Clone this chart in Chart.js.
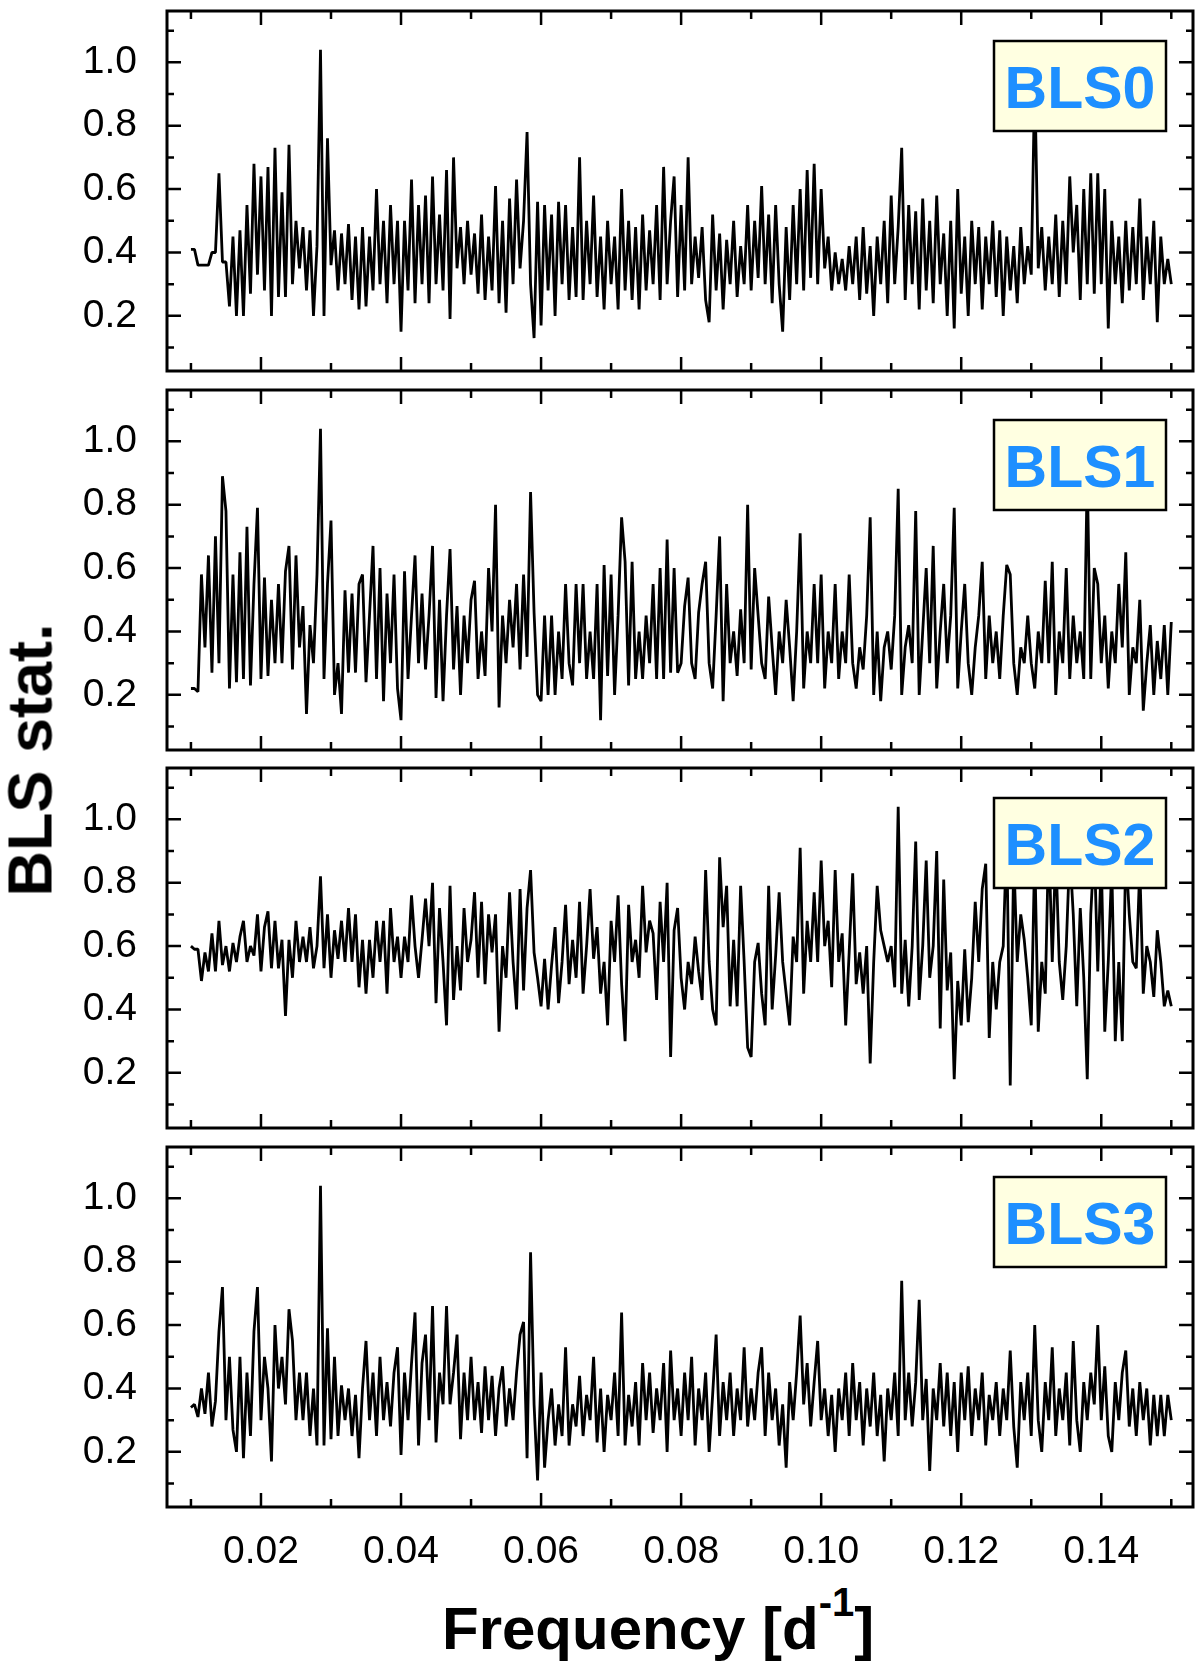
<!DOCTYPE html>
<html>
<head>
<meta charset="utf-8">
<script src="https://cdn.jsdelivr.net/npm/chart.js@4.4.0/dist/chart.umd.min.js"></script>
<style>
html,body{margin:0;padding:0;background:#fff;}
#wrap{position:relative;width:1200px;height:1672px;overflow:hidden;background:#fff;}
canvas{position:absolute;left:0;}
.t{position:absolute;font-family:"Liberation Sans",Arial,Helvetica,sans-serif;font-weight:bold;color:#000;white-space:nowrap;line-height:1;}
</style>
</head>
<body>
<div id="wrap">
  <canvas id="c0" width="1200" height="380" style="top:1px"></canvas>
  <canvas id="c1" width="1200" height="380" style="top:380px"></canvas>
  <canvas id="c2" width="1200" height="380" style="top:758px"></canvas>
  <canvas id="c3" width="1200" height="430" style="top:1137px"></canvas>
  <div class="t" style="left:30px;top:760px;font-size:63px;transform:translate(-50%,-50%) rotate(-90deg);">BLS stat.</div>
  <div class="t" style="left:442px;top:1599px;font-size:60px;">Frequency [d<span style="font-size:40px;position:relative;top:-33px;">-1</span>]</div>
</div>
<script>
// ---------------- data ----------------
const panelLabels = ['BLS0','BLS1','BLS2','BLS3'];

const freq = [
0.0100,0.0105,0.0110,0.0115,0.0120,0.0125,0.0130,0.0135,0.0140,0.0145,
0.0150,0.0155,0.0160,0.0165,0.0170,0.0175,0.0180,0.0185,0.0190,0.0195,
0.0200,0.0205,0.0210,0.0215,0.0220,0.0225,0.0230,0.0235,0.0240,0.0245,
0.0250,0.0255,0.0260,0.0265,0.0270,0.0275,0.0280,0.0285,0.0290,0.0295,
0.0300,0.0305,0.0310,0.0315,0.0320,0.0325,0.0330,0.0335,0.0340,0.0345,
0.0350,0.0355,0.0360,0.0365,0.0370,0.0375,0.0380,0.0385,0.0390,0.0395,
0.0400,0.0405,0.0410,0.0415,0.0420,0.0425,0.0430,0.0435,0.0440,0.0445,
0.0450,0.0455,0.0460,0.0465,0.0470,0.0475,0.0480,0.0485,0.0490,0.0495,
0.0500,0.0505,0.0510,0.0515,0.0520,0.0525,0.0530,0.0535,0.0540,0.0545,
0.0550,0.0555,0.0560,0.0565,0.0570,0.0575,0.0580,0.0585,0.0590,0.0595,
0.0600,0.0605,0.0610,0.0615,0.0620,0.0625,0.0630,0.0635,0.0640,0.0645,
0.0650,0.0655,0.0660,0.0665,0.0670,0.0675,0.0680,0.0685,0.0690,0.0695,
0.0700,0.0705,0.0710,0.0715,0.0720,0.0725,0.0730,0.0735,0.0740,0.0745,
0.0750,0.0755,0.0760,0.0765,0.0770,0.0775,0.0780,0.0785,0.0790,0.0795,
0.0800,0.0805,0.0810,0.0815,0.0820,0.0825,0.0830,0.0835,0.0840,0.0845,
0.0850,0.0855,0.0860,0.0865,0.0870,0.0875,0.0880,0.0885,0.0890,0.0895,
0.0900,0.0905,0.0910,0.0915,0.0920,0.0925,0.0930,0.0935,0.0940,0.0945,
0.0950,0.0955,0.0960,0.0965,0.0970,0.0975,0.0980,0.0985,0.0990,0.0995,
0.1000,0.1005,0.1010,0.1015,0.1020,0.1025,0.1030,0.1035,0.1040,0.1045,
0.1050,0.1055,0.1060,0.1065,0.1070,0.1075,0.1080,0.1085,0.1090,0.1095,
0.1100,0.1105,0.1110,0.1115,0.1120,0.1125,0.1130,0.1135,0.1140,0.1145,
0.1150,0.1155,0.1160,0.1165,0.1170,0.1175,0.1180,0.1185,0.1190,0.1195,
0.1200,0.1205,0.1210,0.1215,0.1220,0.1225,0.1230,0.1235,0.1240,0.1245,
0.1250,0.1255,0.1260,0.1265,0.1270,0.1275,0.1280,0.1285,0.1290,0.1295,
0.1300,0.1305,0.1310,0.1315,0.1320,0.1325,0.1330,0.1335,0.1340,0.1345,
0.1350,0.1355,0.1360,0.1365,0.1370,0.1375,0.1380,0.1385,0.1390,0.1395,
0.1400,0.1405,0.1410,0.1415,0.1420,0.1425,0.1430,0.1435,0.1440,0.1445,
0.1450,0.1455,0.1460,0.1465,0.1470,0.1475,0.1480,0.1485,0.1490,0.1495,
0.1500];

const bls0 = [
0.41,0.41,0.36,0.36,0.36,0.36,0.40,0.40,0.65,0.37,
0.37,0.23,0.45,0.20,0.47,0.20,0.55,0.27,0.68,0.33,
0.64,0.28,0.67,0.20,0.73,0.26,0.59,0.26,0.74,0.30,
0.50,0.35,0.48,0.28,0.47,0.20,0.42,1.04,0.20,0.76,
0.36,0.47,0.28,0.46,0.30,0.49,0.25,0.45,0.22,0.48,
0.23,0.45,0.28,0.60,0.30,0.50,0.24,0.55,0.30,0.50,
0.15,0.50,0.28,0.63,0.24,0.55,0.30,0.58,0.24,0.64,
0.30,0.52,0.28,0.66,0.19,0.70,0.35,0.48,0.30,0.50,
0.33,0.46,0.27,0.52,0.25,0.45,0.28,0.61,0.24,0.50,
0.21,0.57,0.30,0.63,0.35,0.50,0.78,0.30,0.13,0.56,
0.17,0.55,0.28,0.52,0.20,0.56,0.30,0.55,0.25,0.48,
0.26,0.70,0.25,0.50,0.30,0.58,0.26,0.45,0.22,0.50,
0.30,0.45,0.22,0.60,0.28,0.50,0.25,0.48,0.22,0.52,
0.28,0.47,0.30,0.55,0.25,0.67,0.30,0.50,0.64,0.26,
0.55,0.28,0.70,0.30,0.45,0.32,0.48,0.25,0.18,0.52,
0.28,0.46,0.22,0.44,0.30,0.50,0.26,0.42,0.30,0.55,
0.28,0.50,0.32,0.61,0.30,0.52,0.24,0.55,0.30,0.15,
0.48,0.25,0.55,0.30,0.60,0.28,0.66,0.32,0.68,0.30,
0.60,0.35,0.45,0.28,0.40,0.30,0.38,0.28,0.42,0.30,
0.45,0.25,0.48,0.27,0.42,0.20,0.45,0.30,0.50,0.24,
0.58,0.30,0.48,0.73,0.25,0.55,0.30,0.53,0.22,0.57,
0.28,0.50,0.24,0.58,0.30,0.46,0.20,0.50,0.16,0.60,
0.27,0.45,0.20,0.50,0.30,0.48,0.22,0.45,0.30,0.50,
0.26,0.47,0.20,0.45,0.28,0.42,0.24,0.48,0.30,0.42,
0.33,0.95,0.35,0.48,0.28,0.45,0.30,0.52,0.26,0.50,
0.30,0.64,0.40,0.55,0.25,0.60,0.30,0.65,0.27,0.65,
0.30,0.60,0.16,0.50,0.30,0.45,0.24,0.50,0.28,0.48,
0.30,0.57,0.25,0.45,0.30,0.50,0.18,0.45,0.30,0.38,
0.30];

const bls1 = [
0.22,0.22,0.21,0.58,0.35,0.64,0.27,0.70,0.30,0.89,
0.78,0.22,0.58,0.24,0.65,0.25,0.73,0.23,0.55,0.79,
0.25,0.57,0.26,0.50,0.30,0.55,0.30,0.59,0.67,0.28,
0.64,0.35,0.48,0.14,0.42,0.30,0.58,1.04,0.25,0.55,
0.75,0.20,0.30,0.14,0.53,0.27,0.52,0.27,0.55,0.58,
0.24,0.45,0.67,0.25,0.60,0.18,0.52,0.30,0.58,0.22,
0.12,0.59,0.25,0.45,0.64,0.30,0.52,0.28,0.45,0.67,
0.19,0.50,0.18,0.45,0.66,0.28,0.48,0.20,0.45,0.30,
0.50,0.56,0.25,0.40,0.26,0.60,0.40,0.80,0.16,0.45,
0.30,0.50,0.35,0.55,0.28,0.58,0.32,0.84,0.46,0.20,
0.18,0.45,0.20,0.45,0.20,0.40,0.25,0.55,0.30,0.23,
0.55,0.30,0.55,0.25,0.40,0.25,0.55,0.12,0.61,0.26,
0.58,0.20,0.45,0.76,0.62,0.23,0.62,0.25,0.40,0.25,
0.45,0.30,0.55,0.25,0.60,0.25,0.69,0.27,0.60,0.27,
0.30,0.48,0.57,0.30,0.25,0.46,0.55,0.62,0.30,0.22,
0.45,0.70,0.18,0.55,0.30,0.40,0.26,0.47,0.30,0.80,
0.28,0.60,0.45,0.30,0.25,0.51,0.35,0.20,0.40,0.30,
0.50,0.35,0.18,0.40,0.71,0.22,0.40,0.30,0.55,0.30,
0.58,0.22,0.40,0.30,0.55,0.25,0.40,0.30,0.58,0.30,
0.22,0.35,0.28,0.45,0.76,0.20,0.40,0.18,0.35,0.40,
0.28,0.45,0.85,0.20,0.35,0.42,0.30,0.78,0.20,0.40,
0.60,0.30,0.67,0.22,0.40,0.55,0.30,0.45,0.79,0.22,
0.40,0.55,0.30,0.20,0.35,0.45,0.62,0.25,0.45,0.30,
0.40,0.25,0.45,0.61,0.58,0.30,0.20,0.35,0.30,0.45,
0.30,0.22,0.40,0.30,0.56,0.30,0.62,0.20,0.40,0.30,
0.60,0.25,0.45,0.30,0.40,0.25,0.90,0.25,0.60,0.55,
0.30,0.45,0.22,0.40,0.30,0.55,0.35,0.65,0.20,0.35,
0.30,0.50,0.15,0.30,0.42,0.20,0.37,0.25,0.42,0.20,
0.43];

const bls2 = [
0.60,0.59,0.59,0.49,0.58,0.52,0.64,0.52,0.68,0.54,
0.60,0.52,0.61,0.55,0.63,0.68,0.55,0.60,0.57,0.70,
0.52,0.66,0.71,0.53,0.68,0.53,0.62,0.38,0.62,0.50,
0.68,0.55,0.63,0.55,0.66,0.53,0.60,0.82,0.53,0.70,
0.50,0.65,0.56,0.68,0.55,0.72,0.55,0.70,0.47,0.62,
0.45,0.62,0.50,0.68,0.55,0.68,0.45,0.72,0.55,0.63,
0.50,0.63,0.55,0.76,0.60,0.50,0.62,0.75,0.60,0.80,
0.42,0.72,0.55,0.35,0.79,0.43,0.60,0.46,0.72,0.55,
0.62,0.77,0.50,0.74,0.48,0.70,0.58,0.70,0.33,0.60,
0.50,0.77,0.55,0.40,0.78,0.46,0.72,0.84,0.58,0.50,
0.41,0.56,0.40,0.54,0.66,0.42,0.55,0.73,0.48,0.62,
0.50,0.74,0.45,0.60,0.78,0.56,0.66,0.45,0.55,0.35,
0.68,0.55,0.76,0.48,0.30,0.73,0.55,0.62,0.50,0.79,
0.58,0.68,0.64,0.43,0.74,0.55,0.80,0.25,0.65,0.72,
0.50,0.40,0.55,0.48,0.63,0.52,0.43,0.84,0.55,0.40,
0.35,0.88,0.66,0.79,0.41,0.62,0.41,0.79,0.55,0.28,
0.25,0.55,0.61,0.45,0.35,0.79,0.40,0.57,0.77,0.55,
0.45,0.35,0.63,0.55,0.91,0.45,0.68,0.55,0.77,0.55,
0.87,0.60,0.68,0.47,0.84,0.55,0.64,0.35,0.58,0.83,
0.48,0.58,0.45,0.60,0.23,0.55,0.79,0.65,0.60,0.55,
0.60,0.47,1.04,0.45,0.62,0.41,0.60,0.93,0.43,0.60,
0.87,0.50,0.60,0.90,0.34,0.81,0.46,0.58,0.18,0.49,
0.35,0.59,0.36,0.50,0.74,0.55,0.78,0.86,0.31,0.55,
0.40,0.55,0.60,0.95,0.16,0.88,0.55,0.70,0.62,0.50,
0.35,0.90,0.33,0.55,0.45,0.95,0.55,0.90,0.55,0.43,
0.60,0.90,0.70,0.41,0.72,0.50,0.18,0.70,0.92,0.52,
0.88,0.33,0.55,0.85,0.30,0.55,0.30,0.90,0.70,0.55,
0.53,0.85,0.45,0.60,0.55,0.44,0.65,0.55,0.41,0.46,
0.41];

const bls3 = [
0.34,0.35,0.31,0.40,0.32,0.45,0.28,0.36,0.58,0.72,
0.30,0.50,0.27,0.20,0.50,0.18,0.45,0.25,0.58,0.72,
0.30,0.50,0.40,0.17,0.60,0.40,0.50,0.35,0.65,0.55,
0.30,0.45,0.30,0.45,0.25,0.40,0.22,1.04,0.22,0.59,
0.24,0.50,0.25,0.41,0.30,0.40,0.25,0.38,0.18,0.40,
0.55,0.30,0.45,0.25,0.50,0.30,0.42,0.28,0.45,0.53,
0.19,0.45,0.30,0.48,0.64,0.22,0.48,0.57,0.30,0.66,
0.23,0.45,0.35,0.66,0.35,0.45,0.57,0.24,0.45,0.30,
0.50,0.30,0.42,0.26,0.47,0.30,0.44,0.25,0.40,0.47,
0.28,0.40,0.30,0.45,0.57,0.61,0.18,0.83,0.35,0.11,
0.45,0.15,0.30,0.40,0.22,0.35,0.25,0.53,0.22,0.35,
0.28,0.44,0.25,0.38,0.30,0.50,0.23,0.40,0.20,0.38,
0.30,0.45,0.25,0.64,0.22,0.38,0.28,0.42,0.22,0.48,
0.30,0.45,0.26,0.40,0.30,0.48,0.20,0.52,0.30,0.40,
0.25,0.45,0.30,0.50,0.22,0.40,0.30,0.45,0.20,0.38,
0.57,0.25,0.42,0.30,0.45,0.25,0.40,0.30,0.53,0.28,
0.40,0.30,0.45,0.53,0.25,0.45,0.30,0.40,0.22,0.35,
0.15,0.42,0.30,0.45,0.63,0.35,0.48,0.28,0.42,0.55,
0.30,0.40,0.25,0.38,0.20,0.40,0.30,0.45,0.25,0.48,
0.30,0.42,0.22,0.40,0.28,0.45,0.25,0.38,0.17,0.40,
0.30,0.45,0.25,0.74,0.30,0.45,0.28,0.42,0.68,0.30,
0.43,0.14,0.40,0.30,0.48,0.28,0.45,0.25,0.42,0.20,
0.45,0.30,0.47,0.25,0.40,0.30,0.45,0.22,0.38,0.30,
0.42,0.25,0.40,0.30,0.52,0.28,0.15,0.42,0.30,0.45,
0.25,0.60,0.30,0.20,0.42,0.30,0.53,0.25,0.40,0.30,
0.45,0.22,0.55,0.30,0.20,0.42,0.30,0.45,0.35,0.60,
0.30,0.47,0.25,0.20,0.42,0.30,0.45,0.52,0.28,0.40,
0.25,0.42,0.30,0.40,0.22,0.38,0.25,0.38,0.25,0.38,
0.30];

const xMajorTicks = [0.02,0.04,0.06,0.08,0.10,0.12,0.14];
const xMinorTicks = [0.01,0.03,0.05,0.07,0.09,0.11,0.13,0.15];
const yMajorTicks = [0.2,0.4,0.6,0.8,1.0];
const yMinorTicks = [0.1,0.3,0.5,0.7,0.9,1.1];
const xRange = [0.00658, 0.1531];
const yRange = [0.026, 1.162];

// ---------------- drawing ----------------
const FONT = '"Liberation Sans", Arial, Helvetica, sans-serif';

function framePlugin(label) {
  return {
    id: 'frame',
    afterDatasetsDraw(chart) {
      const ctx = chart.ctx, ca = chart.chartArea;
      const xs = chart.scales.x, ys = chart.scales.y;
      ctx.save();
      // label box (drawn over the data)
      const bw = 172, bh = 90, bx = ca.right - 27 - bw, by = ca.top + 30;
      ctx.fillStyle = '#FFFFE1';
      ctx.fillRect(bx, by, bw, bh);
      ctx.lineWidth = 2.5; ctx.strokeStyle = '#000';
      ctx.strokeRect(bx, by, bw, bh);
      ctx.fillStyle = '#1E8FFF';
      ctx.font = 'bold 59px ' + FONT;
      ctx.textAlign = 'center'; ctx.textBaseline = 'alphabetic';
      ctx.fillText(label, bx + bw / 2, by + 67);
      // inward ticks
      ctx.lineWidth = 2.5; ctx.strokeStyle = '#000';
      ctx.beginPath();
      const yt = (vals, len) => vals.forEach(v => {
        const p = ys.getPixelForValue(v);
        ctx.moveTo(ca.left, p); ctx.lineTo(ca.left + len, p);
        ctx.moveTo(ca.right, p); ctx.lineTo(ca.right - len, p);
      });
      const xt = (vals, len) => vals.forEach(v => {
        const p = xs.getPixelForValue(v);
        ctx.moveTo(p, ca.top); ctx.lineTo(p, ca.top + len);
        ctx.moveTo(p, ca.bottom); ctx.lineTo(p, ca.bottom - len);
      });
      yt(yMajorTicks, 14); yt(yMinorTicks, 7);
      xt(xMajorTicks, 14); xt(xMinorTicks, 8);
      ctx.stroke();
      // frame
      ctx.lineWidth = 3;
      ctx.strokeRect(ca.left, ca.top, ca.right - ca.left, ca.bottom - ca.top);
      ctx.restore();
    }
  };
}

function makePanel(id, values, label, showX) {
  const pts = freq.map((f, i) => ({x: f, y: values[i]}));
  new Chart(document.getElementById(id), {
    type: 'line',
    data: {datasets: [{data: pts, borderColor: '#000', borderWidth: 2.8, pointRadius: 0, tension: 0, fill: false, borderJoinStyle: 'bevel'}]},
    options: {
      responsive: false, animation: false, devicePixelRatio: 1,
      layout: {padding: {top: 10, right: 7, bottom: showX ? 0 : 10, left: 0}},
      plugins: {legend: {display: false}, tooltip: {enabled: false}},
      scales: {
        x: {
          type: 'linear', min: xRange[0], max: xRange[1],
          grid: {display: false}, border: {display: false},
          afterBuildTicks: s => { s.ticks = xMajorTicks.map(v => ({value: v})); },
          ticks: {display: showX, padding: 14, color: '#000', autoSkip: false, maxRotation: 0,
                  font: {family: FONT, size: 39}, callback: v => Number(v).toFixed(2)},
          afterFit: s => { s.height = showX ? 60 : 0; s.paddingLeft = 0; s.paddingRight = 0; }
        },
        y: {
          type: 'linear', min: yRange[0], max: yRange[1],
          grid: {display: false}, border: {display: false},
          afterBuildTicks: s => { s.ticks = yMajorTicks.map(v => ({value: v})); },
          ticks: {padding: 22, color: '#000', font: {family: FONT, size: 39},
                  callback: v => Number(v).toFixed(1)},
          afterFit: s => { s.width = 167; s.paddingTop = 0; s.paddingBottom = 0; }
        }
      }
    },
    plugins: [framePlugin(label)]
  });
}

makePanel('c0', bls0, panelLabels[0], false);
makePanel('c1', bls1, panelLabels[1], false);
makePanel('c2', bls2, panelLabels[2], false);
makePanel('c3', bls3, panelLabels[3], true);
</script>
</body>
</html>
